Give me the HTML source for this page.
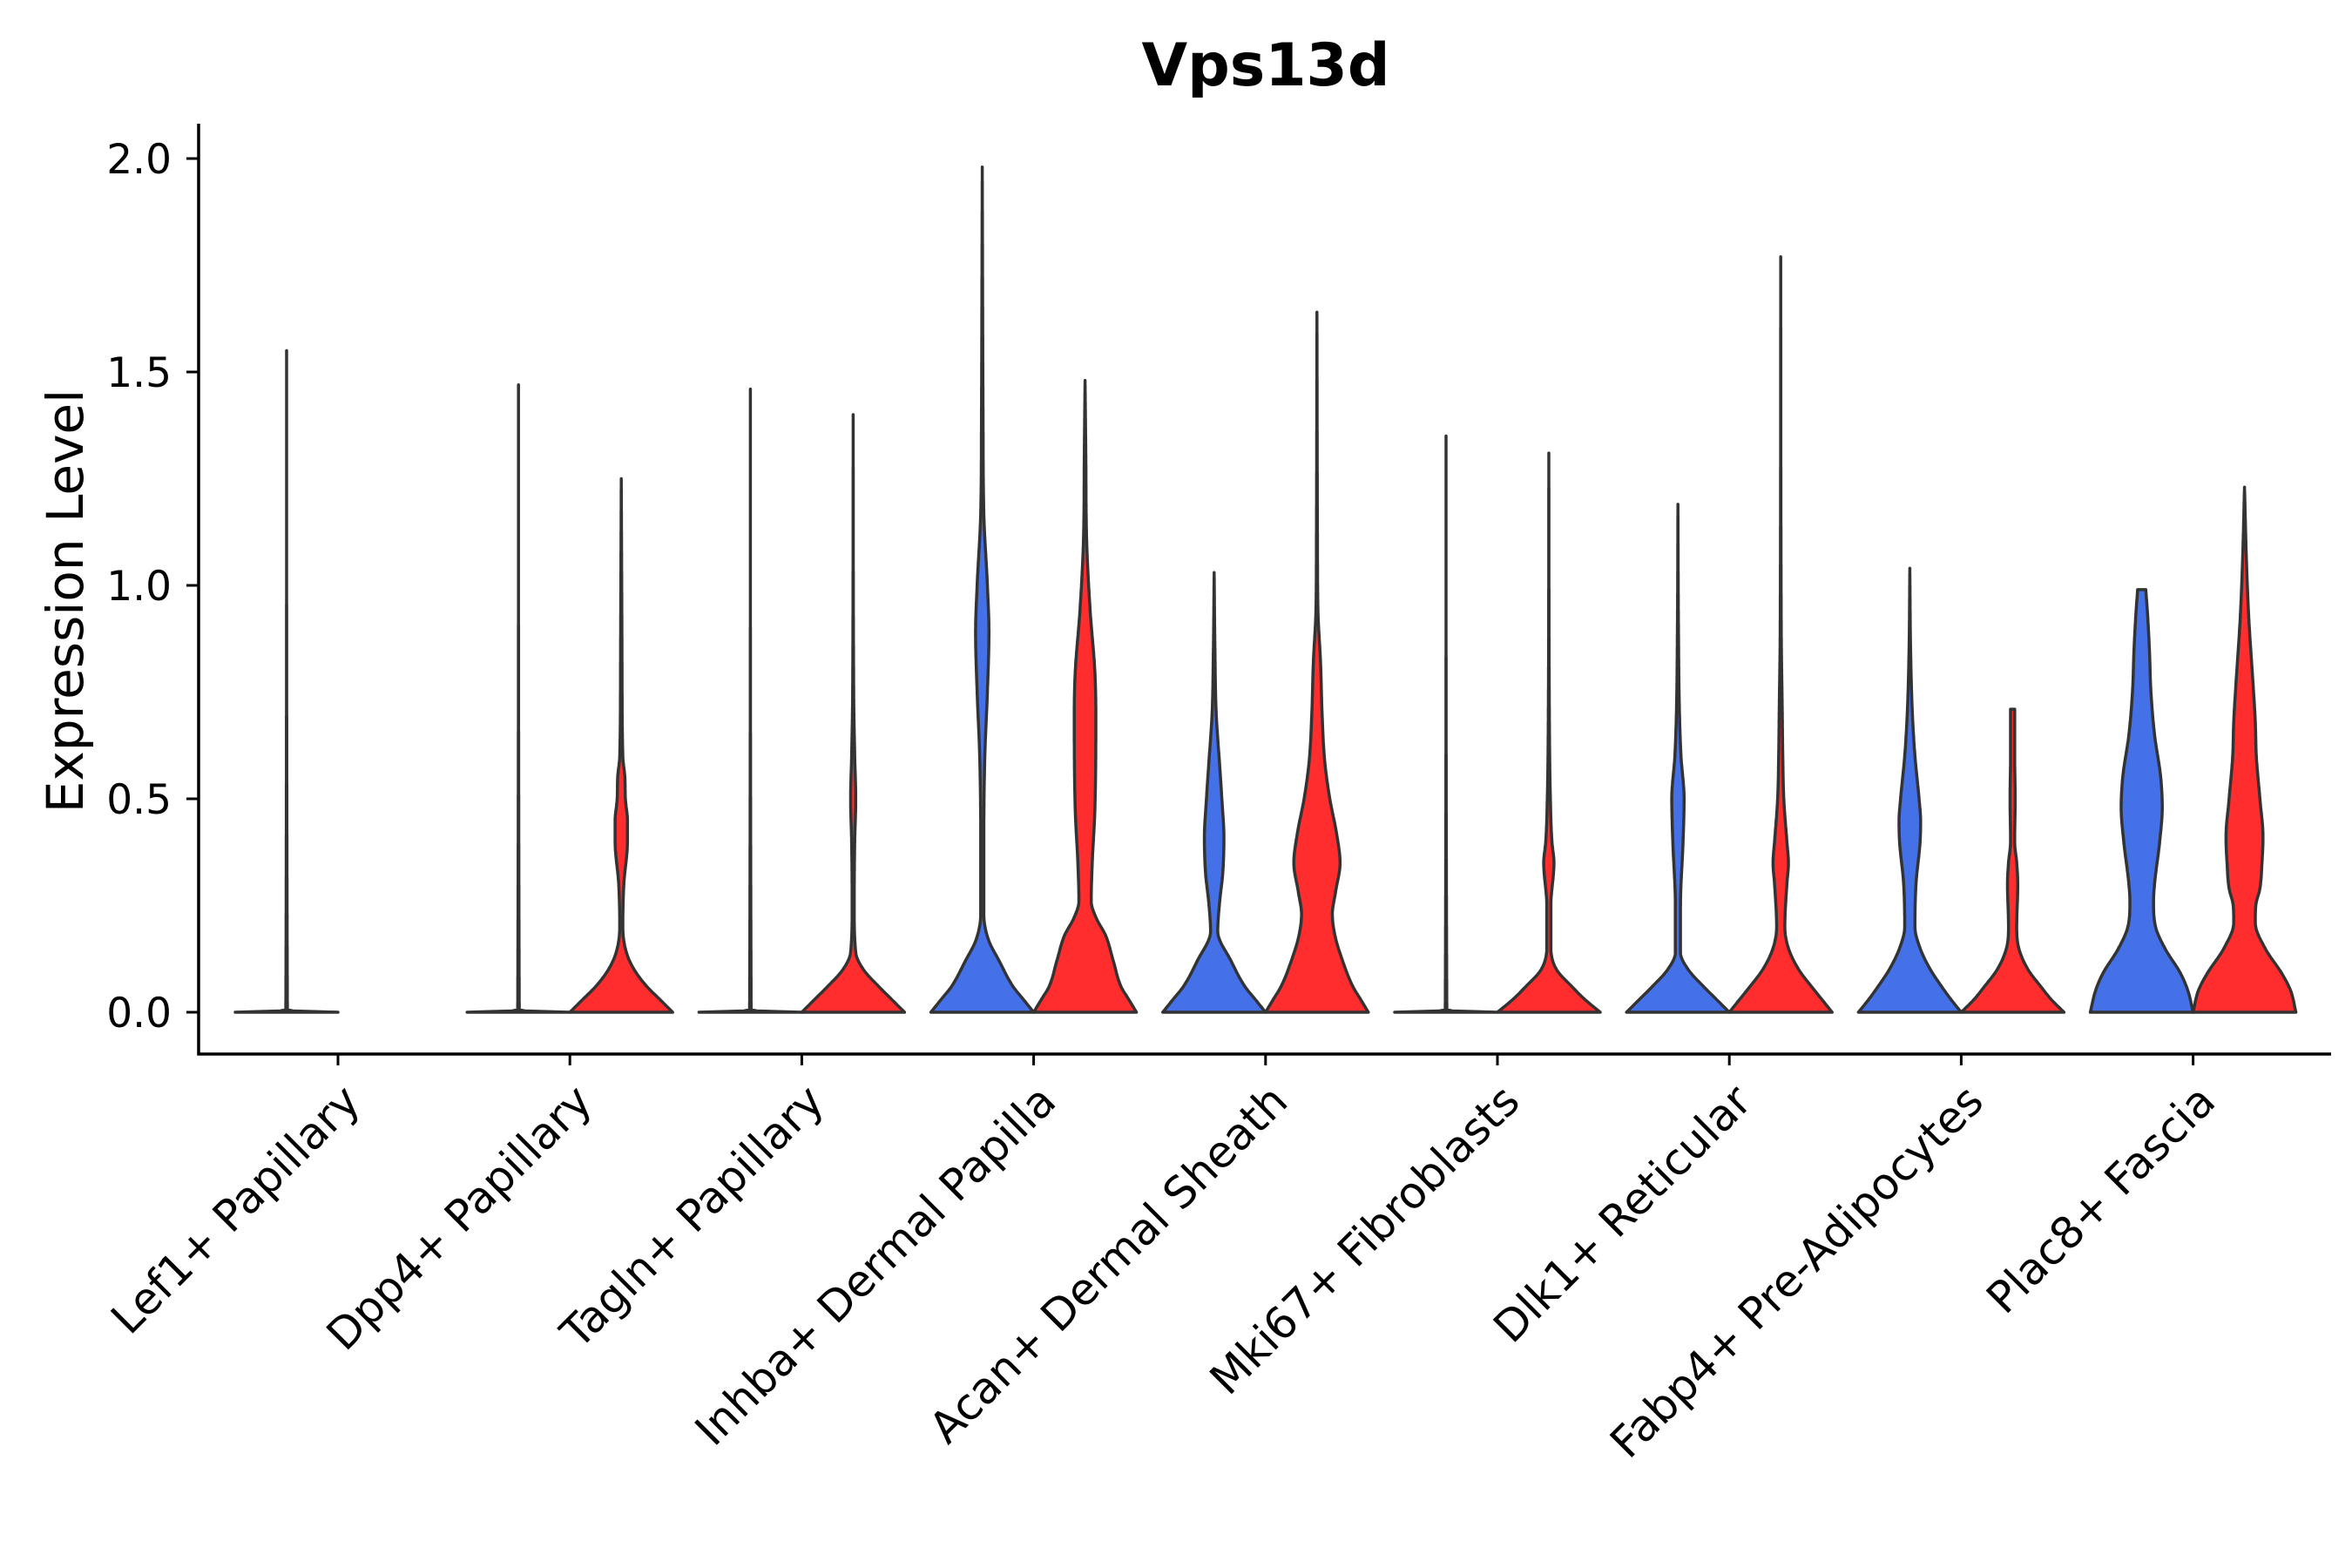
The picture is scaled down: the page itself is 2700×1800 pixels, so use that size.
<!DOCTYPE html>
<html><head><meta charset="utf-8"><style>
html,body{margin:0;padding:0;background:#fff;}
svg{display:block;font-family:"DejaVu Sans","Liberation Sans",sans-serif;}
</style></head><body>
<svg id="chart" width="2700" height="1800" viewBox="0 0 2700 1800" xmlns="http://www.w3.org/2000/svg">
<rect width="2700" height="1800" fill="#fff"/>
<text x="1453" y="98" text-anchor="middle" font-size="68" font-weight="bold" fill="#000">Vps13d</text>
<text transform="translate(95,690) rotate(-90)" text-anchor="middle" font-size="58" fill="#000">Expression Level</text>
<g id="plot"></g>
</svg>
<script>
const categories = ["Lef1+ Papillary","Dpp4+ Papillary","Tagln+ Papillary","Inhba+ Dermal Papilla","Acan+ Dermal Sheath","Mki67+ Fibroblasts","Dlk1+ Reticular","Fabp4+ Pre-Adipocytes","Plac8+ Fascia"];
const yTicks = [0,0.5,1.0,1.5,2.0];
const yTickLabels = ["0.0","0.5","1.0","1.5","2.0"];
const blueY = [
 [0,0.004,1.55],[0,0.004,1.47],[0,0.004,1.46],
 [0,0.03,0.06,0.12,0.17,0.23,0.4,0.6,0.75,0.89,1.0,1.17,1.4,1.98],
 [0,0.03,0.06,0.12,0.19,0.25,0.33,0.41,0.5,0.59,0.7,0.85,1.03],
 [0,0.004,1.35],
 [0,0.03,0.06,0.1,0.14,0.25,0.4,0.5,0.6,0.7,0.9,1.19],
 [0,0.03,0.06,0.1,0.15,0.2,0.3,0.4,0.45,0.5,0.6,0.7,0.85,1.04],
 [0,0.05,0.09,0.15,0.2,0.26,0.3,0.4,0.48,0.55,0.65,0.75,0.85,0.92,0.99]
];
const blueW = [
 [1,0.015,0],[1,0.015,0],[1,0.015,0],
 [1,0.8,0.6,0.33,0.12,0.03,0.03,0.05,0.1,0.13,0.1,0.03,0.015,0],
 [1,0.8,0.6,0.33,0.07,0.1,0.17,0.19,0.15,0.1,0.04,0.015,0],
 [1,0.015,0],
 [1,0.75,0.5,0.2,0.05,0.05,0.1,0.12,0.06,0.03,0.01,0],
 [1,0.8,0.62,0.4,0.2,0.1,0.12,0.2,0.21,0.18,0.1,0.05,0.015,0],
 [1,0.9,0.76,0.45,0.27,0.23,0.25,0.35,0.4,0.37,0.25,0.18,0.15,0.12,0.08]
];
const redY = [
 null,
 [0,0.03,0.06,0.1,0.14,0.2,0.3,0.4,0.45,0.5,0.55,0.6,0.8,1.25],
 [0,0.03,0.06,0.1,0.14,0.25,0.4,0.5,0.6,0.75,1.4],
 [0,0.03,0.06,0.12,0.18,0.22,0.26,0.35,0.47,0.7,0.8,0.94,1.11,1.3,1.48],
 [0,0.03,0.06,0.12,0.18,0.23,0.28,0.35,0.42,0.5,0.59,0.7,0.82,0.94,1.1,1.64],
 [0,0.03,0.06,0.1,0.15,0.25,0.35,0.4,0.5,0.7,1.31],
 [0,0.03,0.06,0.1,0.15,0.2,0.3,0.35,0.4,0.5,0.6,0.7,0.9,1.77],
 [0,0.03,0.06,0.1,0.15,0.2,0.3,0.35,0.4,0.5,0.6,0.71],
 [0,0.05,0.09,0.15,0.21,0.25,0.29,0.35,0.41,0.5,0.6,0.68,0.8,0.92,1.05,1.23]
];
const redW = [
 null,
 [1,0.75,0.5,0.25,0.1,0.03,0.05,0.12,0.12,0.08,0.07,0.03,0.015,0],
 [1,0.75,0.5,0.2,0.05,0.02,0.03,0.05,0.03,0.01,0],
 [1,0.85,0.7,0.55,0.4,0.22,0.12,0.14,0.19,0.21,0.19,0.1,0.03,0.015,0],
 [1,0.85,0.7,0.5,0.35,0.3,0.36,0.45,0.38,0.25,0.15,0.1,0.07,0.02,0.01,0],
 [1,0.7,0.45,0.15,0.04,0.04,0.1,0.06,0.03,0.01,0],
 [1,0.8,0.6,0.35,0.15,0.08,0.12,0.15,0.12,0.06,0.04,0.03,0.01,0],
 [1,0.75,0.55,0.3,0.12,0.08,0.1,0.08,0.04,0.05,0.04,0.04],
 [1,0.9,0.73,0.4,0.21,0.22,0.3,0.34,0.36,0.3,0.23,0.21,0.15,0.085,0.04,0]
];
const NS="http://www.w3.org/2000/svg";
const L=228,R=2676,T=142,B=1210;
const y0px=1162,y2px=182;
function yScale(v){return y0px+(y2px-y0px)*v/2;}
const step=266.2, x0=388;
function xScale(i){return x0+i*step;}
const HW=59;
const g=document.getElementById('plot');
function mk(tag,attrs){const e=document.createElementNS(NS,tag);for(const k in attrs)e.setAttribute(k,attrs[k]);g.appendChild(e);return e;}
function monotone(xs,ys){
  const n=xs.length,d=[],m=new Array(n);
  for(let i=0;i<n-1;i++)d.push((ys[i+1]-ys[i])/(xs[i+1]-xs[i]));
  m[0]=d[0];m[n-1]=d[n-2];
  for(let i=1;i<n-1;i++){m[i]=(d[i-1]*d[i]<=0)?0:(d[i-1]+d[i])/2;}
  for(let i=0;i<n-1;i++){
    if(d[i]===0){m[i]=0;m[i+1]=0;continue;}
    const a=m[i]/d[i],b=m[i+1]/d[i],s=a*a+b*b;
    if(s>9){const t=3/Math.sqrt(s);m[i]=t*a*d[i];m[i+1]=t*b*d[i];}
  }
  return function(x){
    let i=0;while(i<n-2&&x>xs[i+1])i++;
    const h=xs[i+1]-xs[i],t=(x-xs[i])/h,t2=t*t,t3=t2*t;
    return (2*t3-3*t2+1)*ys[i]+(t3-2*t2+t)*h*m[i]+(-2*t3+3*t2)*ys[i+1]+(t3-t2)*h*m[i+1];
  };
}
function violin(cx,ys,ws,fill,name){
  const f=monotone(ys,ws);
  const top=ys[ys.length-1];
  const samples=[];
  for(let y=0;y<top;y+=0.003)samples.push(y);
  samples.push(top);
  const right=samples.map(y=>[cx+HW*Math.max(0,f(y)),yScale(y)]);
  const left=samples.map(y=>[cx-HW*Math.max(0,f(y)),yScale(y)]).reverse();
  const pts=right.concat(left);
  const d="M"+pts.map(p=>p[0].toFixed(1)+","+p[1].toFixed(1)).join(" L")+" Z";
  const p=mk('path',{d:d,fill:fill,stroke:'#333',"stroke-width":3.5,"stroke-linejoin":"round"});
  
  
}
categories.forEach((c,i)=>{
  const cx=xScale(i);
  violin(cx-HW,blueY[i],blueW[i],'#4470E8','violin-blue-'+i);
  if(redY[i]) violin(cx+HW,redY[i],redW[i],'#FF2D2D','violin-red-'+i);
  const t=mk('line',{x1:cx,x2:cx,y1:B,y2:B+13,stroke:'#000',"stroke-width":3});
  
  
  const lb=mk('text',{transform:"translate("+(cx+16)+","+(B+45)+") rotate(-45)","text-anchor":"end","font-size":50,fill:"#000","dominant-baseline":"central"});
  lb.textContent=c;
  
  
});
yTicks.forEach((v,k)=>{
  const y=yScale(v);
  const t=mk('line',{x1:L-14,x2:L,y1:y,y2:y,stroke:'#000',"stroke-width":3});
  
  
  const lb=mk('text',{x:L-31,y:y+17,"text-anchor":"end","font-size":47,fill:"#000"});
  lb.textContent=yTickLabels[k];
  
  
});
const ax=mk('line',{x1:L,x2:L,y1:T,y2:B+1.5,stroke:'#000',"stroke-width":3.5});


const bx=mk('line',{x1:L-1.5,x2:R,y1:B,y2:B,stroke:'#000',"stroke-width":3.5});


</script>
</body></html>
